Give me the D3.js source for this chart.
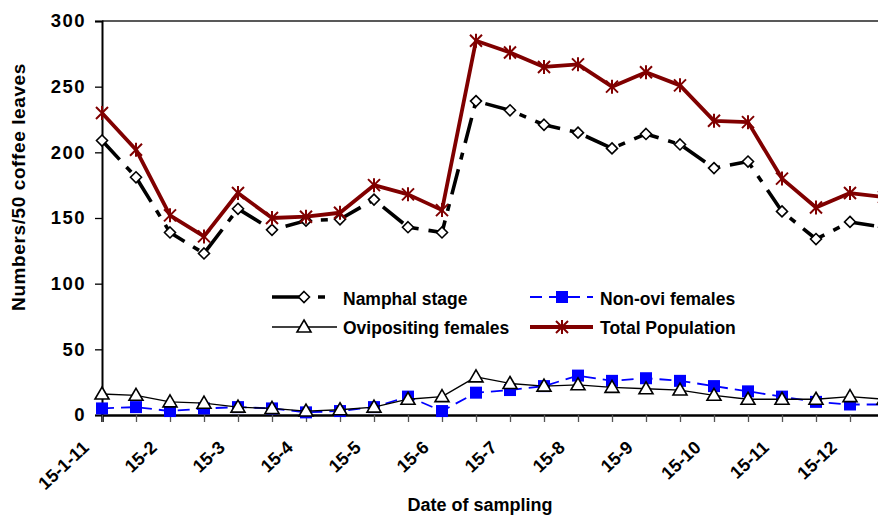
<!DOCTYPE html>
<html>
<head>
<meta charset="utf-8">
<script src="https://d3js.org/d3.v7.min.js"></script>
<style>
  body { margin: 0; background: #fff; }
  text { font-family: "Liberation Sans", Arial, sans-serif; font-weight: bold; }
</style>
</head>
<body>
<script>
// sampling dates (only every second one labelled)
var dateLabels = ["15-1-11","15-2","15-3","15-4","15-5","15-6","15-7","15-8","15-9","15-10","15-11","15-12"];

var namphal = [209,181,139,123,157,141,148,149,164,143,139,239,232,221,215,203,214,206,188,193,155,134,147,143];
var nonOvi  = [5,6,3,5,6,5,2,3,6,14,3,17,19,22,30,26,28,26,22,18,14,10,8,8];
var ovi     = [16,15,10,9,6,5,3,4,6,12,14,29,24,22,23,21,20,19,15,12,12,12,14,12];
var total   = [230,202,152,136,169,150,151,154,175,168,156,285,276,265,267,250,261,251,224,223,180,158,169,166];

var yTicks = [0,50,100,150,200,250,300];

var width = 878, height = 515;

var svg = d3.select("body")
            .append("svg")
            .attr("width", width)
            .attr("height", height);

var xScale = d3.scaleLinear()
               .domain([0, 23])
               .range([102, 884]);

var yScale = d3.scaleLinear()
               .domain([0, 300])
               .range([415, 21]);

// top frame line
svg.append("line")
   .attr("x1", 102).attr("x2", 900)
   .attr("y1", yScale(300)).attr("y2", yScale(300))
   .attr("stroke", "#222").attr("stroke-width", 1.6);

// y axis
var yAxis = svg.append("g")
   .attr("transform", "translate(102,0)")
   .call(d3.axisLeft(yScale).tickValues(yTicks).tickSize(7).tickPadding(9));
yAxis.select(".domain").attr("stroke", "#000").attr("stroke-width", 2);
yAxis.selectAll(".tick line").attr("stroke", "#000").attr("stroke-width", 1.3);
yAxis.selectAll(".tick text")
     .attr("fill", "#000")
     .style("font-size", "18.5px")
     .style("letter-spacing", "1.5px");

// x axis, one tick per sampling
var xAxis = svg.append("g")
   .attr("transform", "translate(0,415)")
   .call(d3.axisBottom(xScale).tickValues(d3.range(24)).tickSize(7).tickFormat(""));
xAxis.select(".domain").attr("stroke", "#000").attr("stroke-width", 2.6);
xAxis.selectAll(".tick line").attr("stroke", "#555").attr("stroke-width", 1.3);

svg.selectAll(".xlab")
   .data(dateLabels)
   .enter()
   .append("text")
   .attr("class", "xlab")
   .attr("text-anchor", "end")
   .attr("transform", function(d,i){ return "translate(" + (xScale(i*2) - 12) + ",449) rotate(-43)"; })
   .style("font-size", "18px")
   .text(function(d){ return d; });

// axis titles
svg.append("text")
   .attr("x", 480).attr("y", 511)
   .attr("text-anchor", "middle")
   .style("font-size", "18px")
   .text("Date of sampling");

svg.append("text")
   .attr("transform", "translate(25,187) rotate(-90)")
   .attr("text-anchor", "middle")
   .style("font-size", "19px")
   .style("letter-spacing", "0.6px")
   .text("Numbers/50 coffee leaves");

var line = function(values){
  return d3.line()
           .x(function(d,i){ return xScale(i); })
           .y(function(d){ return yScale(d); })(values);
};

// marker drawers
function diamond(g, x, y){
  g.append("path")
   .attr("d", "M" + x + "," + (y-5.5) + "L" + (x+5.5) + "," + y + "L" + x + "," + (y+5.5) + "L" + (x-5.5) + "," + y + "Z")
   .attr("fill", "#fff").attr("stroke", "#000").attr("stroke-width", 1.6);
}
function square(g, x, y){
  g.append("rect")
   .attr("x", x-6).attr("y", y-6).attr("width", 12).attr("height", 12)
   .attr("fill", "#0000ff");
}
function triangle(g, x, y){
  g.append("path")
   .attr("d", "M" + x + "," + (y-7) + "L" + (x+7) + "," + (y+5) + "L" + (x-7) + "," + (y+5) + "Z")
   .attr("fill", "#fff").attr("stroke", "#000").attr("stroke-width", 1.6);
}
function asterisk(g, x, y){
  g.append("path")
   .attr("d", "M" + (x-6) + "," + (y-6) + "L" + (x+6) + "," + (y+6) +
              "M" + (x-6) + "," + (y+6) + "L" + (x+6) + "," + (y-6) +
              "M" + x + "," + (y-7) + "L" + x + "," + (y+7))
   .attr("stroke", "#800000").attr("stroke-width", 2);
}

var series = [
  {name: "Namphal stage", values: namphal, color: "#000", width: 3.6, dash: "26,10,7,10", marker: diamond},
  {name: "Non-ovi females", values: nonOvi, color: "#0000ff", width: 1.8, dash: "12,7", marker: square},
  {name: "Ovipositing females", values: ovi, color: "#000", width: 1.3, dash: null, marker: triangle},
  {name: "Total Population", values: total, color: "#800000", width: 3.8, dash: null, marker: asterisk}
];

series.forEach(function(s){
  var g = svg.append("g");
  g.append("path")
   .attr("d", line(s.values))
   .attr("fill", "none")
   .attr("stroke", s.color)
   .attr("stroke-width", s.width)
   .attr("stroke-linejoin", "round")
   .attr("stroke-dasharray", s.dash);
  s.values.forEach(function(d,i){
    s.marker(g, xScale(i), yScale(d));
  });
});

// legend, two rows by two columns
var legendPos = [
  {x: 272, y: 297, tx: 343, ty: 305},
  {x: 530, y: 297, tx: 600, ty: 305},
  {x: 272, y: 327, tx: 343, ty: 334},
  {x: 530, y: 327, tx: 600, ty: 334}
];

var legend = svg.append("g");
series.forEach(function(s,i){
  var p = legendPos[i];
  var len = (i == 1 || i == 3) ? 63 : 65;
  legend.append("line")
        .attr("x1", p.x).attr("x2", p.x + len)
        .attr("y1", p.y).attr("y2", p.y)
        .attr("stroke", s.color)
        .attr("stroke-width", s.width)
        .attr("stroke-dasharray", i == 0 ? "28,18,7,20" : s.dash);
  s.marker(legend, p.x + 32, p.y);
  legend.append("text")
        .attr("x", p.tx).attr("y", p.ty)
        .style("font-size", "17.5px")
        .text(s.name);
});
</script>
</body>
</html>
